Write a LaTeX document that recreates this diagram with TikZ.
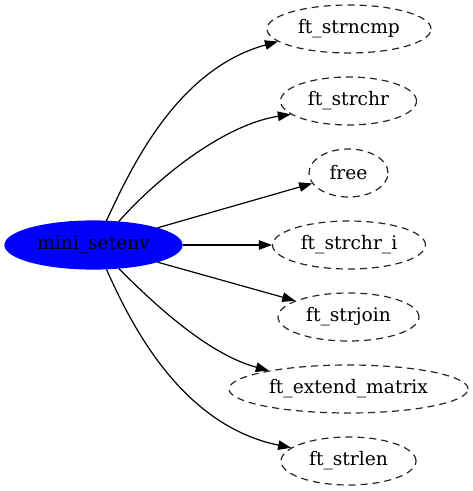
\documentclass[tikz,border=0pt]{standalone}
\usepackage{fontspec}
\setmainfont{DejaVu Serif}
\usetikzlibrary{arrows.meta,shapes.geometric}
\begin{document}
\begin{tikzpicture}[x=1pt,y=-1pt,
  lbl/.style={font=\fontsize{18.67}{22}\selectfont},
  fn/.style={lbl,ellipse,draw=black!85,dash pattern=on 7pt off 5pt,line width=1.2pt,minimum height=48pt,inner sep=0pt},
  root/.style={lbl,ellipse,draw=blue,fill=blue,line width=1.2pt,minimum height=48pt,minimum width=177pt,inner sep=0pt},
  edge/.style={line width=1.2pt,-{Triangle[length=13pt,width=9.5pt]}}
]
\useasboundingbox (0,0) rectangle (473,491);
\node[root] (m) at (93.5,245) {mini\_setenv};
\node[fn,minimum width=164pt] (t1) at (349,29) {ft\_strncmp};
\node[fn,minimum width=136pt] (t2) at (348.5,101) {ft\_strchr};
\node[fn,minimum width=79pt] (t3) at (348.5,173) {free};
\node[fn,minimum width=153pt] (t4) at (349,245) {ft\_strchr\_i};
\node[fn,minimum width=141pt] (t5) at (348.5,317) {ft\_strjoin};
\node[fn,minimum width=239pt] (t6) at (348.5,389) {ft\_extend\_matrix};
\node[fn,minimum width=135pt] (t7) at (348.5,461) {ft\_strlen};
\draw[edge] (m.62.5) .. controls +(24,-51) and +(-102,28) .. (t1.190.7);
\draw[edge] (m.43.6) .. controls +(42,-47) and +(-65,10) .. (t2.193.5);
\draw[edge] (m.15.2) -- (t3.196.2);
\draw[edge] (m.0) -- (t4.180);
\draw[edge] (m.-15.2) -- (t5.163.8);
\draw[edge] (m.-43.6) .. controls +(31,31) and +(-63,-17) .. (t6.167.3);
\draw[edge] (m.-62.5) .. controls +(23,51) and +(-112,-23) .. (t7.167);
\end{tikzpicture}
\end{document}
